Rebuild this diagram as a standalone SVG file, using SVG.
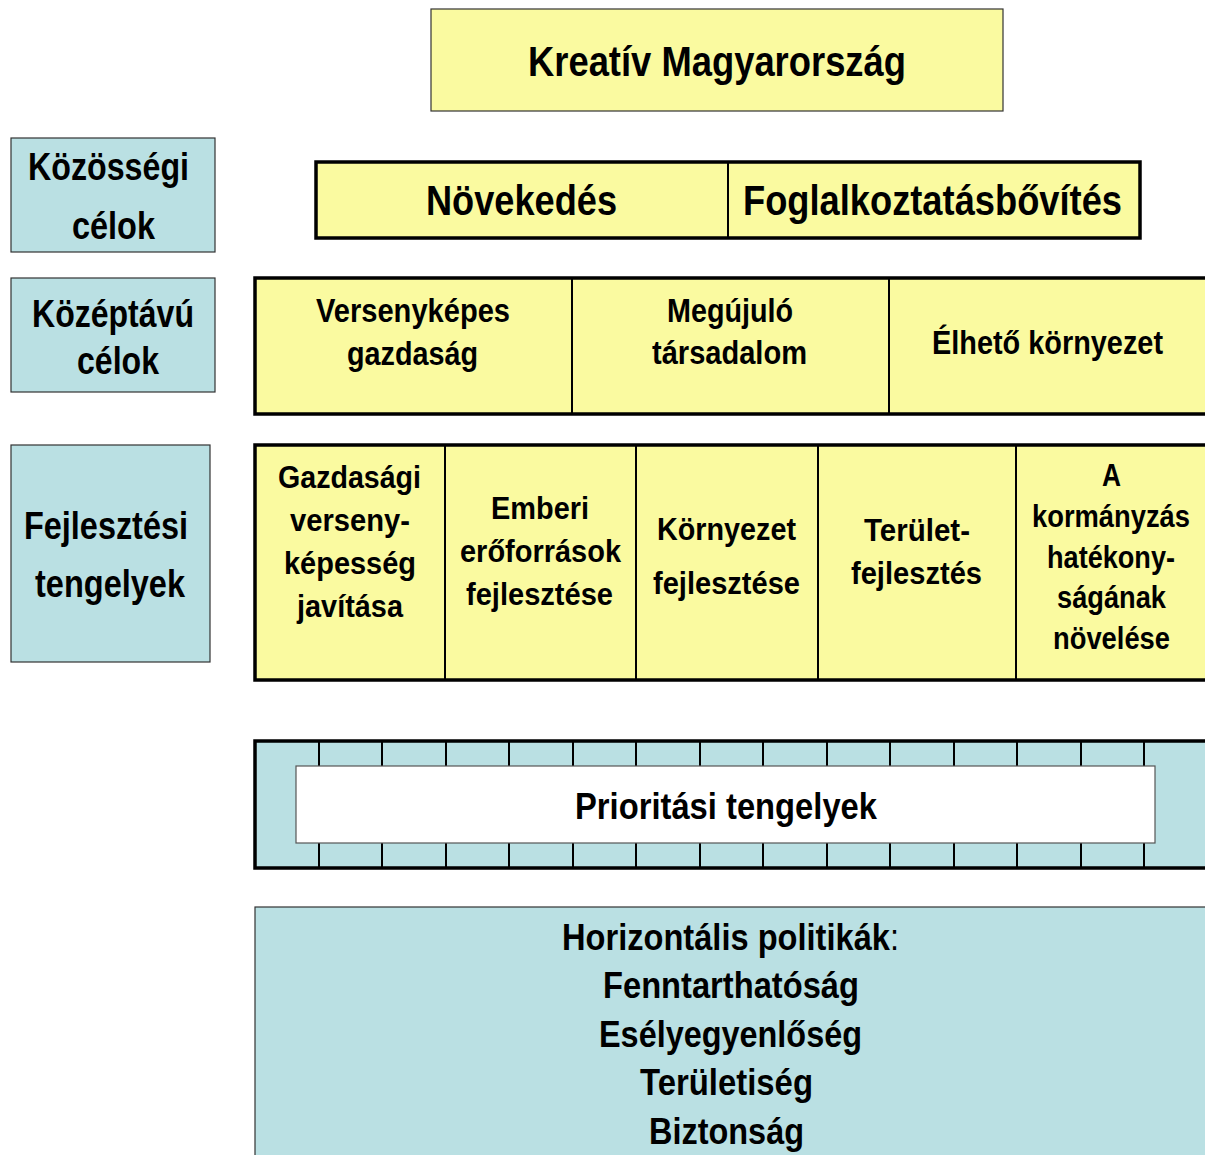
<svg xmlns="http://www.w3.org/2000/svg" width="1205" height="1155" viewBox="0 0 1205 1155">
<style>
.y{fill:#fafaa0;}
.b{fill:#bae0e3;}
.thin{stroke:#333;stroke-width:1.2;}
.thick{stroke:#000;stroke-width:3.5;fill:none;}
.div{stroke:#000;stroke-width:2;}
.tk{stroke:#000;stroke-width:2;}
text{font-family:"Liberation Sans",Arial,sans-serif;font-weight:bold;fill:#000;text-anchor:middle;}
.t43{font-size:43px;}
.t38{font-size:38px;}
.t37{font-size:37px;}
.t36{font-size:36px;}
.t34{font-size:34px;}
.t32{font-size:32px;}
</style>
<rect width="1205" height="1155" fill="#fff"/>
<g id="kreativ">
<rect x="431" y="9" width="572" height="102" class="y thin"/>
<text x="717" y="76" class="t43" textLength="378" lengthAdjust="spacingAndGlyphs">Kreatív Magyarország</text>
</g>
<g id="kozossegi">
<rect x="11" y="138" width="204" height="114" class="b thin"/>
<text x="108.5" y="180" class="t38" textLength="161" lengthAdjust="spacingAndGlyphs">Közösségi</text>
<text x="113.5" y="239" class="t38" textLength="83" lengthAdjust="spacingAndGlyphs">célok</text>
</g>
<g id="kozeptavu">
<rect x="11" y="278" width="204" height="114" class="b thin"/>
<text x="113" y="327" class="t38" textLength="162" lengthAdjust="spacingAndGlyphs">Középtávú</text>
<text x="118" y="374" class="t38" textLength="82" lengthAdjust="spacingAndGlyphs">célok</text>
</g>
<g id="fejlesztesi">
<rect x="11" y="445" width="199" height="217" class="b thin"/>
<text x="106" y="539" class="t38" textLength="164" lengthAdjust="spacingAndGlyphs">Fejlesztési</text>
<text x="110" y="597" class="t38" textLength="150" lengthAdjust="spacingAndGlyphs">tengelyek</text>
</g>
<g id="row1">
<rect x="316" y="162" width="824" height="76" class="y"/>
<rect x="316" y="162" width="824" height="76" class="thick"/>
<line x1="728" y1="162" x2="728" y2="238" class="div"/>
<text x="521.5" y="215" class="t43" textLength="191" lengthAdjust="spacingAndGlyphs">Növekedés</text>
<text x="932.5" y="215" class="t43" textLength="379" lengthAdjust="spacingAndGlyphs">Foglalkoztatásbővítés</text>
</g>
<g id="row2">
<rect x="255" y="278" width="955" height="136" class="y"/>
<rect x="255" y="278" width="955" height="136" class="thick"/>
<line x1="572" y1="278" x2="572" y2="414" class="div"/>
<line x1="889" y1="278" x2="889" y2="414" class="div"/>
<text x="413" y="322" class="t34" textLength="194" lengthAdjust="spacingAndGlyphs">Versenyképes</text>
<text x="412.5" y="365" class="t34" textLength="131" lengthAdjust="spacingAndGlyphs">gazdaság</text>
<text x="730" y="322" class="t34" textLength="126" lengthAdjust="spacingAndGlyphs">Megújuló</text>
<text x="729.5" y="364" class="t34" textLength="155" lengthAdjust="spacingAndGlyphs">társadalom</text>
<text x="1047.5" y="354" class="t34" textLength="231" lengthAdjust="spacingAndGlyphs">Élhető környezet</text>
</g>
<g id="row3">
<rect x="255" y="445" width="955" height="235" class="y"/>
<rect x="255" y="445" width="955" height="235" class="thick"/>
<line x1="445" y1="445" x2="445" y2="680" class="div"/>
<line x1="636" y1="445" x2="636" y2="680" class="div"/>
<line x1="818" y1="445" x2="818" y2="680" class="div"/>
<line x1="1016" y1="445" x2="1016" y2="680" class="div"/>
<text x="349.5" y="488" class="t32" textLength="143" lengthAdjust="spacingAndGlyphs">Gazdasági</text>
<text x="350" y="531" class="t32" textLength="120" lengthAdjust="spacingAndGlyphs">verseny-</text>
<text x="350" y="574" class="t32" textLength="132" lengthAdjust="spacingAndGlyphs">képesség</text>
<text x="350" y="617" class="t32" textLength="106" lengthAdjust="spacingAndGlyphs">javítása</text>
<text x="540" y="519" class="t32" textLength="98" lengthAdjust="spacingAndGlyphs">Emberi</text>
<text x="540.5" y="562" class="t32" textLength="161" lengthAdjust="spacingAndGlyphs">erőforrások</text>
<text x="539.5" y="605" class="t32" textLength="147" lengthAdjust="spacingAndGlyphs">fejlesztése</text>
<text x="726.5" y="540" class="t32" textLength="139" lengthAdjust="spacingAndGlyphs">Környezet</text>
<text x="726.5" y="594" class="t32" textLength="147" lengthAdjust="spacingAndGlyphs">fejlesztése</text>
<text x="917" y="541" class="t32" textLength="106" lengthAdjust="spacingAndGlyphs">Terület-</text>
<text x="916.5" y="584" class="t32" textLength="131" lengthAdjust="spacingAndGlyphs">fejlesztés</text>
<text x="1111.5" y="486" class="t32" textLength="19" lengthAdjust="spacingAndGlyphs">A</text>
<text x="1111" y="527" class="t32" textLength="158" lengthAdjust="spacingAndGlyphs">kormányzás</text>
<text x="1111" y="568" class="t32" textLength="128" lengthAdjust="spacingAndGlyphs">hatékony-</text>
<text x="1111.5" y="608" class="t32" textLength="109" lengthAdjust="spacingAndGlyphs">ságának</text>
<text x="1111.5" y="649" class="t32" textLength="117" lengthAdjust="spacingAndGlyphs">növelése</text>
</g>
<g id="prioritasi">
<rect x="255" y="741" width="955" height="127" class="b"/>
<g class="tk">
<line x1="319" y1="741" x2="319" y2="766"/><line x1="382" y1="741" x2="382" y2="766"/><line x1="446" y1="741" x2="446" y2="766"/><line x1="509" y1="741" x2="509" y2="766"/><line x1="573" y1="741" x2="573" y2="766"/><line x1="636" y1="741" x2="636" y2="766"/><line x1="700" y1="741" x2="700" y2="766"/><line x1="763" y1="741" x2="763" y2="766"/><line x1="827" y1="741" x2="827" y2="766"/><line x1="890" y1="741" x2="890" y2="766"/><line x1="954" y1="741" x2="954" y2="766"/><line x1="1017" y1="741" x2="1017" y2="766"/><line x1="1081" y1="741" x2="1081" y2="766"/><line x1="1144" y1="741" x2="1144" y2="766"/>
<line x1="319" y1="843" x2="319" y2="868"/><line x1="382" y1="843" x2="382" y2="868"/><line x1="446" y1="843" x2="446" y2="868"/><line x1="509" y1="843" x2="509" y2="868"/><line x1="573" y1="843" x2="573" y2="868"/><line x1="636" y1="843" x2="636" y2="868"/><line x1="700" y1="843" x2="700" y2="868"/><line x1="763" y1="843" x2="763" y2="868"/><line x1="827" y1="843" x2="827" y2="868"/><line x1="890" y1="843" x2="890" y2="868"/><line x1="954" y1="843" x2="954" y2="868"/><line x1="1017" y1="843" x2="1017" y2="868"/><line x1="1081" y1="843" x2="1081" y2="868"/><line x1="1144" y1="843" x2="1144" y2="868"/>
</g>
<rect x="296" y="766" width="859" height="77" fill="#fff" stroke="#555" stroke-width="1.2"/>
<rect x="255" y="741" width="955" height="127" class="thick"/>
<text x="726" y="819" class="t37" textLength="302" lengthAdjust="spacingAndGlyphs">Prioritási tengelyek</text>
</g>
<g id="horizontalis">
<rect x="255" y="907" width="960" height="260" class="b thin"/>
<text x="730.5" y="950" class="t36" textLength="337" lengthAdjust="spacingAndGlyphs">Horizontális politikák<tspan font-weight="normal">:</tspan></text>
<text x="731" y="998" class="t37" textLength="256" lengthAdjust="spacingAndGlyphs">Fenntarthatóság</text>
<text x="730.5" y="1047" class="t37" textLength="263" lengthAdjust="spacingAndGlyphs">Esélyegyenlőség</text>
<text x="726.5" y="1095" class="t37" textLength="173" lengthAdjust="spacingAndGlyphs">Területiség</text>
<text x="726.5" y="1144" class="t37" textLength="155" lengthAdjust="spacingAndGlyphs">Biztonság</text>
</g>
</svg>
